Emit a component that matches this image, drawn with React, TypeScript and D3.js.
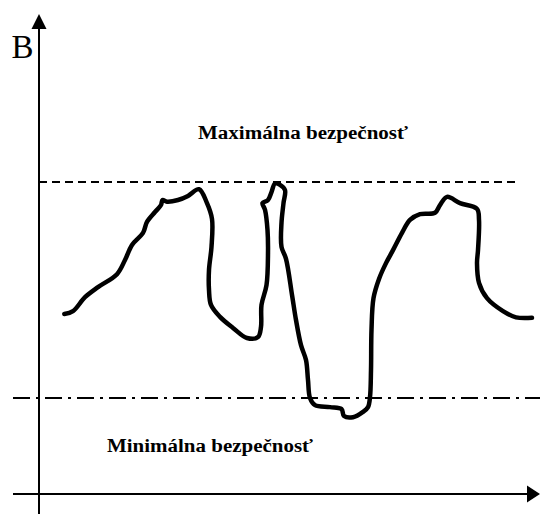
import React from "react";
import * as d3 from "d3";

// Time axis (arbitrary units 0..100) and safety level B (0..100)
const timeValues = [
  5.06, 6.8, 9.2, 11.8, 15.6, 17.2, 18.6, 20.8, 21.6, 23.2, 24.4, 24.7, 25.6, 27.8, 29.8, 32.0,
  33.6, 34.6, 34.5, 34.0, 34.0, 34.4, 36.2, 38.8, 41.6, 43.8, 44.4, 44.5, 45.5, 45.8, 45.7, 45.2,
  44.7, 45.8, 46.5, 47.2, 48.2, 49.2, 48.9, 48.5, 48.5, 49.4, 50.6, 51.4, 52.4, 53.4, 53.8, 54.2,
  55.2, 58.2, 60.5, 61.0, 62.8, 64.8, 65.8, 66.2, 66.4, 66.5, 66.9, 68.0, 69.4, 70.8, 72.6, 74.2,
  76.2, 79.2, 80.2, 81.6, 84.2, 87.6, 88.0, 87.8, 87.6, 88.0, 89.6, 92.8, 95.4, 98.6,
];
const safetyValues = [
  37.5, 38.1, 41.0, 43.1, 45.8, 48.75, 51.9, 54.4, 56.7, 58.75, 60.2, 61.25, 60.9, 61.25, 62.1, 63.5,
  60.6, 57.3, 51.5, 46.7, 42.5, 39.4, 36.9, 34.6, 32.5, 32.7, 34.8, 39.4, 43.5, 50.2, 55.0, 59.2,
  60.6, 61.25, 62.9, 64.7, 64.4, 63.3, 60.6, 56.5, 51.5, 49.0, 41.5, 36.25, 31.0, 27.9, 23.75, 20.0,
  18.5, 18.1, 17.7, 16.25, 16.0, 17.1, 18.1, 20.2, 25.8, 34.2, 40.8, 44.8, 48.1, 50.8, 54.4, 57.1,
  58.3, 58.6, 60.2, 61.9, 60.6, 59.4, 57.1, 50.8, 48.1, 44.0, 40.8, 38.1, 36.8, 36.7,
];

const maxSafety = 65;
const minSafety = 20;
const maxLabel = "Maximálna bezpečnosť";
const minLabel = "Minimálna bezpečnosť";
const yAxisLabel = "B";

const W = 540;
const H = 514;

export default function App() {
  const x = d3.scaleLinear().domain([0, 100]).range([39, 539]);
  const y = d3.scaleLinear().domain([0, 100]).range([494, 14]);

  const pts: [number, number][] = timeValues.map((t, i) => [t, safetyValues[i]]);
  const line = d3
    .line<[number, number]>()
    .x((d) => x(d[0]))
    .y((d) => y(d[1]))
    .curve(d3.curveCatmullRom.alpha(0.5));

  const x0 = x(0);
  const yAxisY = y(0);
  const xStart = x(-5.2);
  const xEnd = x(100.2);
  const yTop = y(100);

  const upArrow = `M${x0},${yTop} L${x0 - 7.5},${yTop + 15} L${x0 + 7.5},${yTop + 15} Z`;
  const rightArrow = `M${xEnd},${yAxisY} L${xEnd - 13},${yAxisY - 8.5} L${xEnd - 13},${yAxisY + 8.5} Z`;

  const serif = "'Liberation Serif', 'Times New Roman', serif";

  return (
    <svg
      width={W}
      height={H}
      style={{ position: "absolute", left: 0, top: 0, display: "block", background: "#fff" }}
    >
      <rect width={W} height={H} fill="#fff" />
      {/* axes */}
      <line x1={x0} x2={x0} y1={yTop + 10} y2={H} stroke="#000" strokeWidth={2} />
      <path d={upArrow} fill="#000" />
      <line x1={xStart} x2={xEnd - 10} y1={yAxisY} y2={yAxisY} stroke="#000" strokeWidth={2} />
      <path d={rightArrow} fill="#000" />

      {/* threshold lines */}
      <line
        x1={x0}
        x2={x(96.2)}
        y1={y(maxSafety)}
        y2={y(maxSafety)}
        stroke="#000"
        strokeWidth={2}
        strokeDasharray="8 5"
      />
      <line
        x1={xStart}
        x2={xEnd}
        y1={y(minSafety)}
        y2={y(minSafety)}
        stroke="#000"
        strokeWidth={2}
        strokeDasharray="17 6 3 6"
      />

      {/* curve */}
      <path
        d={line(pts) || ""}
        fill="none"
        stroke="#000"
        strokeWidth={4.5}
        strokeLinejoin="round"
        strokeLinecap="round"
      />

      {/* labels */}
      <text x={11.5} y={58} fontFamily={serif} fontSize={33} fill="#000">
        {yAxisLabel}
      </text>
      <text
        x={198}
        y={139}
        fontFamily={serif}
        fontWeight="bold"
        fontSize={18.5}
        textLength={210}
        lengthAdjust="spacingAndGlyphs"
        fill="#000"
      >
        {maxLabel}
      </text>
      <text
        x={107}
        y={451.5}
        fontFamily={serif}
        fontWeight="bold"
        fontSize={18.5}
        textLength={206}
        lengthAdjust="spacingAndGlyphs"
        fill="#000"
      >
        {minLabel}
      </text>
    </svg>
  );
}
